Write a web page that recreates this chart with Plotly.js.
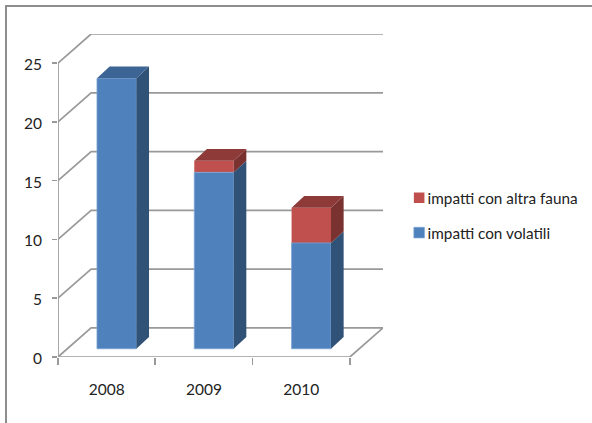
<!DOCTYPE html>
<html>
<head>
<meta charset="utf-8">
<script src="https://cdn.plot.ly/plotly-3.0.1.min.js"></script>
<style>
  html, body { margin: 0; padding: 0; background: #fff; }
  #frame { position: absolute; left: 5px; top: 5px; width: 587px; height: 418px;
           border-left: 2px solid #8e8e8e; border-top: 2px solid #8e8e8e; box-sizing: border-box; }
  #chart { position: absolute; left: 0; top: 0; width: 592px; height: 423px; }
</style>
</head>
<body>
<div id="frame"></div>
<div id="chart"></div>
<script>
// Bird and wildlife strike counts per year
const categories = ['2008', '2009', '2010'];
const volatili = [23, 15, 9];
const altraFauna = [0, 1, 3];
const yTicks = [0, 5, 10, 15, 20, 25];
const seriesNames = ['impatti con volatili', 'impatti con altra fauna'];

// Oblique projection: the wall sits behind the axis plane by this much
const wallDx = 0.34, wallDy = 2.47;
// Column placement on the floor, and the depth of each column
const barDx = 0.103, barLift = 0.7, barWidth = 0.405, barDepthX = 0.13, barDepthY = 1.0;

const xs = categories.map((_, i) => i);
const xLo = -0.5, xHi = categories.length - 0.5;

// Column side and top faces, null-separated so one trace holds every polygon
function sideFaces(bases, values) {
  const x = [], y = [];
  xs.forEach(i => {
    if (values[i] <= 0) return;
    const r = i + barDx + barWidth / 2, b = barLift + bases[i], t = b + values[i];
    x.push(r, r + barDepthX, r + barDepthX, r, null);
    y.push(b, b + barDepthY, t + barDepthY, t, null);
  });
  return {x, y};
}
function topFaces(tops, show) {
  const x = [], y = [];
  xs.forEach(i => {
    if (!show[i]) return;
    const l = i + barDx - barWidth / 2, r = l + barWidth, t = barLift + tops[i];
    x.push(l, r, r + barDepthX, l + barDepthX, null);
    y.push(t, t, t + barDepthY, t + barDepthY, null);
  });
  return {x, y};
}
function face(poly, color) {
  return {type: 'scatter', mode: 'lines', x: poly.x, y: poly.y, fill: 'toself', fillcolor: color,
          line: {width: 0}, showlegend: false, hoverinfo: 'skip'};
}

const zeros = volatili.map(() => 0);
const totals = volatili.map((v, i) => v + altraFauna[i]);

const traces = [
  {type: 'bar', name: seriesNames[1], legendgroup: 'b', x: xs.map(i => i + barDx), y: altraFauna,
   base: volatili.map(v => v + barLift), width: barWidth,
   marker: {color: '#c0504d', line: {width: 0}}},
  {type: 'bar', name: seriesNames[0], legendgroup: 'a', x: xs.map(i => i + barDx), y: volatili,
   base: zeros.map(z => z + barLift), width: barWidth,
   marker: {color: '#4f81bd', line: {color: '#7ba4d6', width: 0.8}}},
  face(sideFaces(zeros, volatili), '#315277'),
  face(sideFaces(volatili, altraFauna), '#7a3230'),
  face(topFaces(volatili, altraFauna.map(v => v === 0)), '#3c6494'),
  face(topFaces(totals, altraFauna.map(v => v > 0)), '#8d3a38')
];

const gridColor = '#999999';
const seg = (path, width) => ({type: 'path', xref: 'x', yref: 'y', layer: 'below', path,
                               line: {color: gridColor, width: width || 1.7}});
// Floor and wall lines for each tick, then the two axis lines and the floor's far edge
const shapes = yTicks.map(v =>
  seg(`M${xLo},${v} L${xLo + wallDx},${v + wallDy} L${xHi + wallDx},${v + wallDy}`));
shapes.push(seg(`M${xLo},0 L${xLo},${yTicks[yTicks.length - 1]}`));
shapes.push(seg(`M${xLo},0 L${xHi},0 L${xHi + wallDx},${wallDy}`));

const tickFont = {family: 'Lato, sans-serif', size: 15.5, color: '#222222'};

const layout = {
  width: 592, height: 423,
  margin: {l: 58, r: 209, t: 34, b: 66, pad: 0, autoexpand: false},
  paper_bgcolor: 'rgba(0,0,0,0)', plot_bgcolor: 'rgba(0,0,0,0)',
  barmode: 'overlay',
  shapes,
  xaxis: {range: [xLo, xHi + wallDx], showgrid: false, zeroline: false, showline: false,
          tickmode: 'array', tickvals: xs, ticktext: categories, ticks: '', ticklabelstandoff: 21,
          tickfont: tickFont,
          minor: {tickmode: 'array', tickvals: [-0.5, 0.5, 1.5, 2.5], ticks: 'outside',
                  ticklen: 6.5, tickwidth: 1.7, tickcolor: gridColor, showgrid: false}},
  yaxis: {range: [0, 25 + wallDy], showgrid: false, zeroline: false, showline: false,
          tickmode: 'array', tickvals: yTicks, ticks: 'outside', ticklen: 5, tickwidth: 1.7,
          tickcolor: gridColor, ticklabelstandoff: 7, tickfont: tickFont},
  showlegend: true,
  legend: {x: 1.014, xanchor: 'left', xref: 'paper', y: 0.544, yanchor: 'top', traceorder: 'grouped',
           tracegroupgap: 12, font: {family: 'Lato, sans-serif', size: 15.3, color: '#222222'},
           bgcolor: 'rgba(0,0,0,0)'}
};

Plotly.newPlot('chart', traces, layout, {displayModeBar: false, staticPlot: true}).then(() => {
  // Pull the legend swatches in close to their labels
  document.querySelectorAll('#chart .legend .traces .legendpoints').forEach(g => {
    g.setAttribute('transform', 'translate(14,0) scale(0.88)');
  });
  // Seat the value labels a touch lower against their ticks
  document.querySelectorAll('#chart .ytick text').forEach(t => {
    t.setAttribute('y', parseFloat(t.getAttribute('y')) + 1.5);
  });
});
</script>
</body>
</html>
